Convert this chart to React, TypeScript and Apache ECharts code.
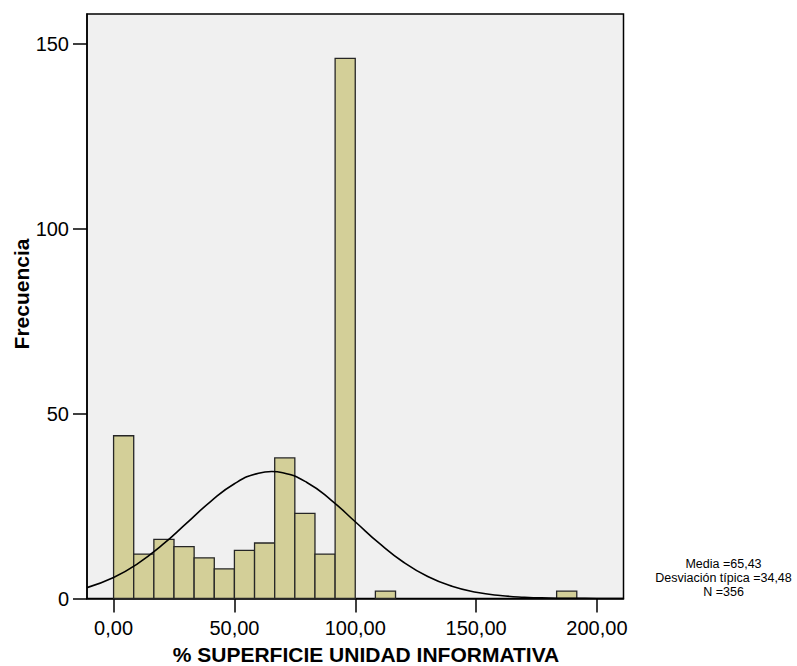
import React, { useEffect, useRef } from "react";
import * as echarts from "echarts";

// Histogram bins: lower edge, upper edge (in % units) and frequency
const binLow = [0, 8.33, 16.67, 25, 33.33, 41.67, 50, 58.33, 66.67, 75, 83.33, 91.67, 108.33, 183.33];
const binHigh = [8.33, 16.67, 25, 33.33, 41.67, 50, 58.33, 66.67, 75, 83.33, 91.67, 100, 116.67, 191.67];
const counts = [44, 12, 16, 14, 11, 8, 13, 15, 38, 23, 12, 146, 2, 2];

// Normal curve
const curveX = [-11, 0, 10, 20, 30, 40, 50, 60, 65.43, 70, 80, 90, 100, 110, 120, 130, 140, 150, 160, 170, 180, 190, 200, 211];
const curveY = [2.94, 5.67, 9.42, 14.4, 20.23, 26.13, 31.03, 33.88, 34.32, 34.0, 31.37, 26.61, 20.75, 14.88, 9.8, 5.94, 3.31, 1.69, 0.8, 0.345, 0.137, 0.05, 0.017, 0.005];

const xTickValues = [0, 50, 100, 150, 200];
const xTickLabels = ["0,00", "50,00", "100,00", "150,00", "200,00"];
const yTickValues = [0, 50, 100, 150];
const yTickLabels = ["0", "50", "100", "150"];

const xTitle = "% SUPERFICIE UNIDAD INFORMATIVA";
const yTitle = "Frecuencia";
const statsText = "Media =65,43\nDesviación típica =34,48\nN =356";

const FONT = "'Liberation Sans', Arial, sans-serif";

export default function App() {
  const ref = useRef<HTMLDivElement>(null);

  useEffect(() => {
    if (!ref.current) return;
    const chart = echarts.init(ref.current, undefined, { renderer: "svg" });
    const barData = counts.map((c, i) => [binLow[i], binHigh[i], c]);
    const lineData = curveX.map((x, i) => [x, curveY[i]]);

    chart.setOption({
      animation: false,
      backgroundColor: "#ffffff",
      grid: {
        left: 87,
        top: 14,
        right: 173.5,
        bottom: 67.5,
        show: true,
        backgroundColor: "#f0f0f0",
        borderColor: "#000000",
        borderWidth: 1.5,
      },
      xAxis: {
        type: "value",
        min: -11,
        max: 211,
        splitLine: { show: false },
        axisLine: { show: true, onZero: false, lineStyle: { color: "#000", width: 1.5 } },
        axisTick: {
          show: true,
          customValues: xTickValues,
          length: 14,
          lineStyle: { color: "#000", width: 1.5 },
        },
        axisLabel: {
          customValues: xTickValues,
          margin: 19,
          fontSize: 20,
          fontFamily: FONT,
          color: "#000",
          formatter: (v: number) => {
            const i = xTickValues.indexOf(v);
            return i >= 0 ? xTickLabels[i] : "";
          },
        },
      },
      yAxis: {
        type: "value",
        min: 0,
        max: 158,
        splitLine: { show: false },
        axisLine: { show: true, onZero: false, lineStyle: { color: "#000", width: 1.5 } },
        axisTick: {
          show: true,
          customValues: yTickValues,
          length: 14,
          lineStyle: { color: "#000", width: 1.5 },
        },
        axisLabel: {
          customValues: yTickValues,
          margin: 18,
          fontSize: 20,
          fontFamily: FONT,
          color: "#000",
          formatter: (v: number) => {
            const i = yTickValues.indexOf(v);
            return i >= 0 ? yTickLabels[i] : "";
          },
        },
      },
      series: [
        {
          type: "custom",
          data: barData,
          encode: { x: [0, 1], y: 2 },
          z: 2,
          renderItem: (params: any, api: any) => {
            const x0 = api.value(0);
            const x1 = api.value(1);
            const c = api.value(2);
            const p0 = api.coord([x0, c]);
            const p1 = api.coord([x1, 0]);
            return {
              type: "rect",
              shape: { x: p0[0], y: p0[1], width: p1[0] - p0[0], height: p1[1] - p0[1] },
              style: { fill: "#d3cf98", stroke: "#262626", lineWidth: 1.3 },
            };
          },
        },
        {
          type: "line",
          data: lineData,
          smooth: true,
          showSymbol: false,
          symbol: "none",
          z: 3,
          lineStyle: { color: "#000", width: 1.6 },
        },
      ],
      graphic: [
        {
          type: "text",
          x: 366,
          y: 654,
          style: {
            text: xTitle,
            fontSize: 21,
            fontWeight: "bold",
            fontFamily: FONT,
            fill: "#000",
            align: "center",
            verticalAlign: "middle",
          },
        },
        {
          type: "text",
          x: 21,
          y: 294,
          rotation: Math.PI / 2,
          style: {
            text: yTitle,
            fontSize: 21,
            fontWeight: "bold",
            fontFamily: FONT,
            fill: "#000",
            align: "center",
            verticalAlign: "middle",
          },
        },
        {
          type: "text",
          x: 723.5,
          y: 578,
          style: {
            text: statsText,
            fontSize: 12.5,
            lineHeight: 14,
            fontFamily: FONT,
            fill: "#000",
            align: "center",
            verticalAlign: "middle",
          },
        },
      ],
    });
    return () => chart.dispose();
  }, []);

  return (
    <div
      ref={ref}
      style={{ position: "absolute", left: 0, top: 0, width: 797, height: 666 }}
    />
  );
}
